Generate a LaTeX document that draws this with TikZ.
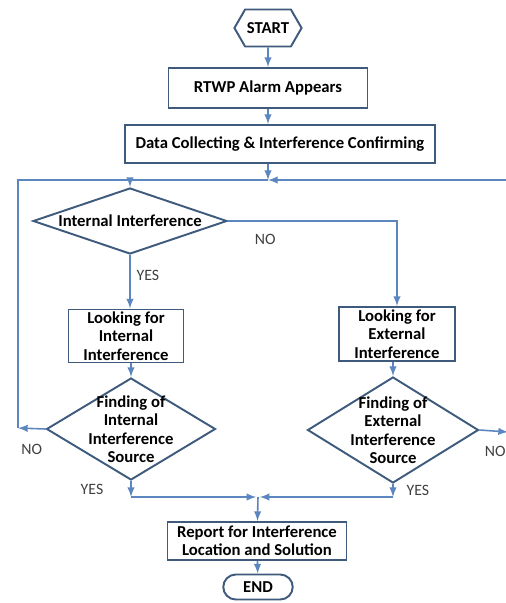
\documentclass[tikz,border=0pt]{standalone}
\usepackage{fontspec}
\setmainfont{Carlito}
\usetikzlibrary{shapes.geometric,shapes.symbols,shapes.misc}
\definecolor{boxblue}{HTML}{3E5A7C}
\definecolor{lineblue}{HTML}{5B86BF}

\begin{document}
\begin{tikzpicture}[
      x=0.02cm, y=-0.02cm,
      font=\fontsize{9.5}{10.5}\selectfont\bfseries,
      object/.style={draw=boxblue,line width=1.1pt,fill=white,align=center,inner sep=1pt},
      decision/.style={diamond,draw=boxblue,line width=1.1pt,inner sep=0pt},
      to/.style={-latex,color=lineblue,line width=0.9pt},
      answer/.style={font=\fontsize{9}{10}\selectfont,text=black!75},
      ]
    \useasboundingbox (0,0) rectangle (505,603);

    % Position the nodes
    \node[object,signal,signal to=west and east,signal pointer angle=120,minimum width=1.3cm,minimum height=0.74cm] (start) at (268,28) {START};
    \node[object,minimum width=3.98cm,minimum height=0.8cm] (rtwp) at (268,88) {RTWP Alarm Appears};
    \node[object,minimum width=6.2cm,minimum height=0.76cm] (data) at (280,144) {Data Collecting \& Interference Confirming};
    \node[decision,minimum width=3.88cm,minimum height=1.32cm,label={[align=center]center:Internal Interference}] (intdia) at (130,221) {};
    \node[object,minimum width=2.3cm,minimum height=1.06cm] (lookint) at (126,336) {Looking for\\Internal\\Interference};
    \node[object,minimum width=2.32cm,minimum height=1.08cm] (lookext) at (397,334) {Looking for\\External\\Interference};
    \node[decision,minimum width=3.38cm,minimum height=2.04cm,label={[align=center]center:Finding of\\Internal\\Interference\\Source}] (findint) at (131,429) {};
    \node[decision,minimum width=3.42cm,minimum height=2.12cm,label={[align=center]center:Finding of\\External\\Interference\\Source}] (findext) at (393,430) {};
    \node[object,minimum width=3.58cm,minimum height=0.76cm] (report) at (257,541) {Report for Interference\\Location and Solution};
    \node[object,rounded rectangle,minimum width=1.46cm,minimum height=0.5cm] (finish) at (258,587) {END};

    \coordinate (top) at (268,180);
    \coordinate (loopl) at (18,428);
    \coordinate (loopr) at (508,432);
    \coordinate (join) at (258,497);

    % Draw the arrows and labels
    \draw [to] (start) -- (rtwp);
    \draw [to] (rtwp) -- (rtwp.south |- data.north);
    \draw [to] (rtwp.south |- data.south) -- (top);
    \draw [to] (top) -- (top -| intdia) -- (intdia.north);

    \draw [to] (intdia.east) -| node[pos=0.11,below=4pt,answer] {NO} (lookext.north);
    \draw [to] (intdia.south) -- node[pos=0.38,right,answer] {YES} (intdia.south |- lookint.north);
    \draw [to] (findint.north |- lookint.south) -- (findint.north);
    \draw [to] (findext.north |- lookext.south) -- (findext.north);

    % loops back for NO
    \draw [to] (findint.west) -- node[midway,below=5pt,answer] {NO} (loopl);
    \draw [lineblue,line width=0.9pt] (loopl) |- (top -| intdia);
    \draw [to] (findext.east) -- node[pos=0.55,below=5pt,answer] {NO} (loopr);
    \draw [to] (loopr) |- (top);

    % YES branches join
    \draw [to] (findint.south) -- node[midway,left=12pt,answer] {YES} (findint.south |- join);
    \draw [to,shorten >=1pt] (findint.south |- join) -- (join);
    \draw [to] (findext.south) -- node[midway,right=4pt,answer] {YES} (findext.south |- join);
    \draw [to,shorten >=1pt] (findext.south |- join) -- (join);
    \draw [to] (join) -- (report);
    \draw [to] (report) -- (finish);

\end{tikzpicture}
\end{document}
